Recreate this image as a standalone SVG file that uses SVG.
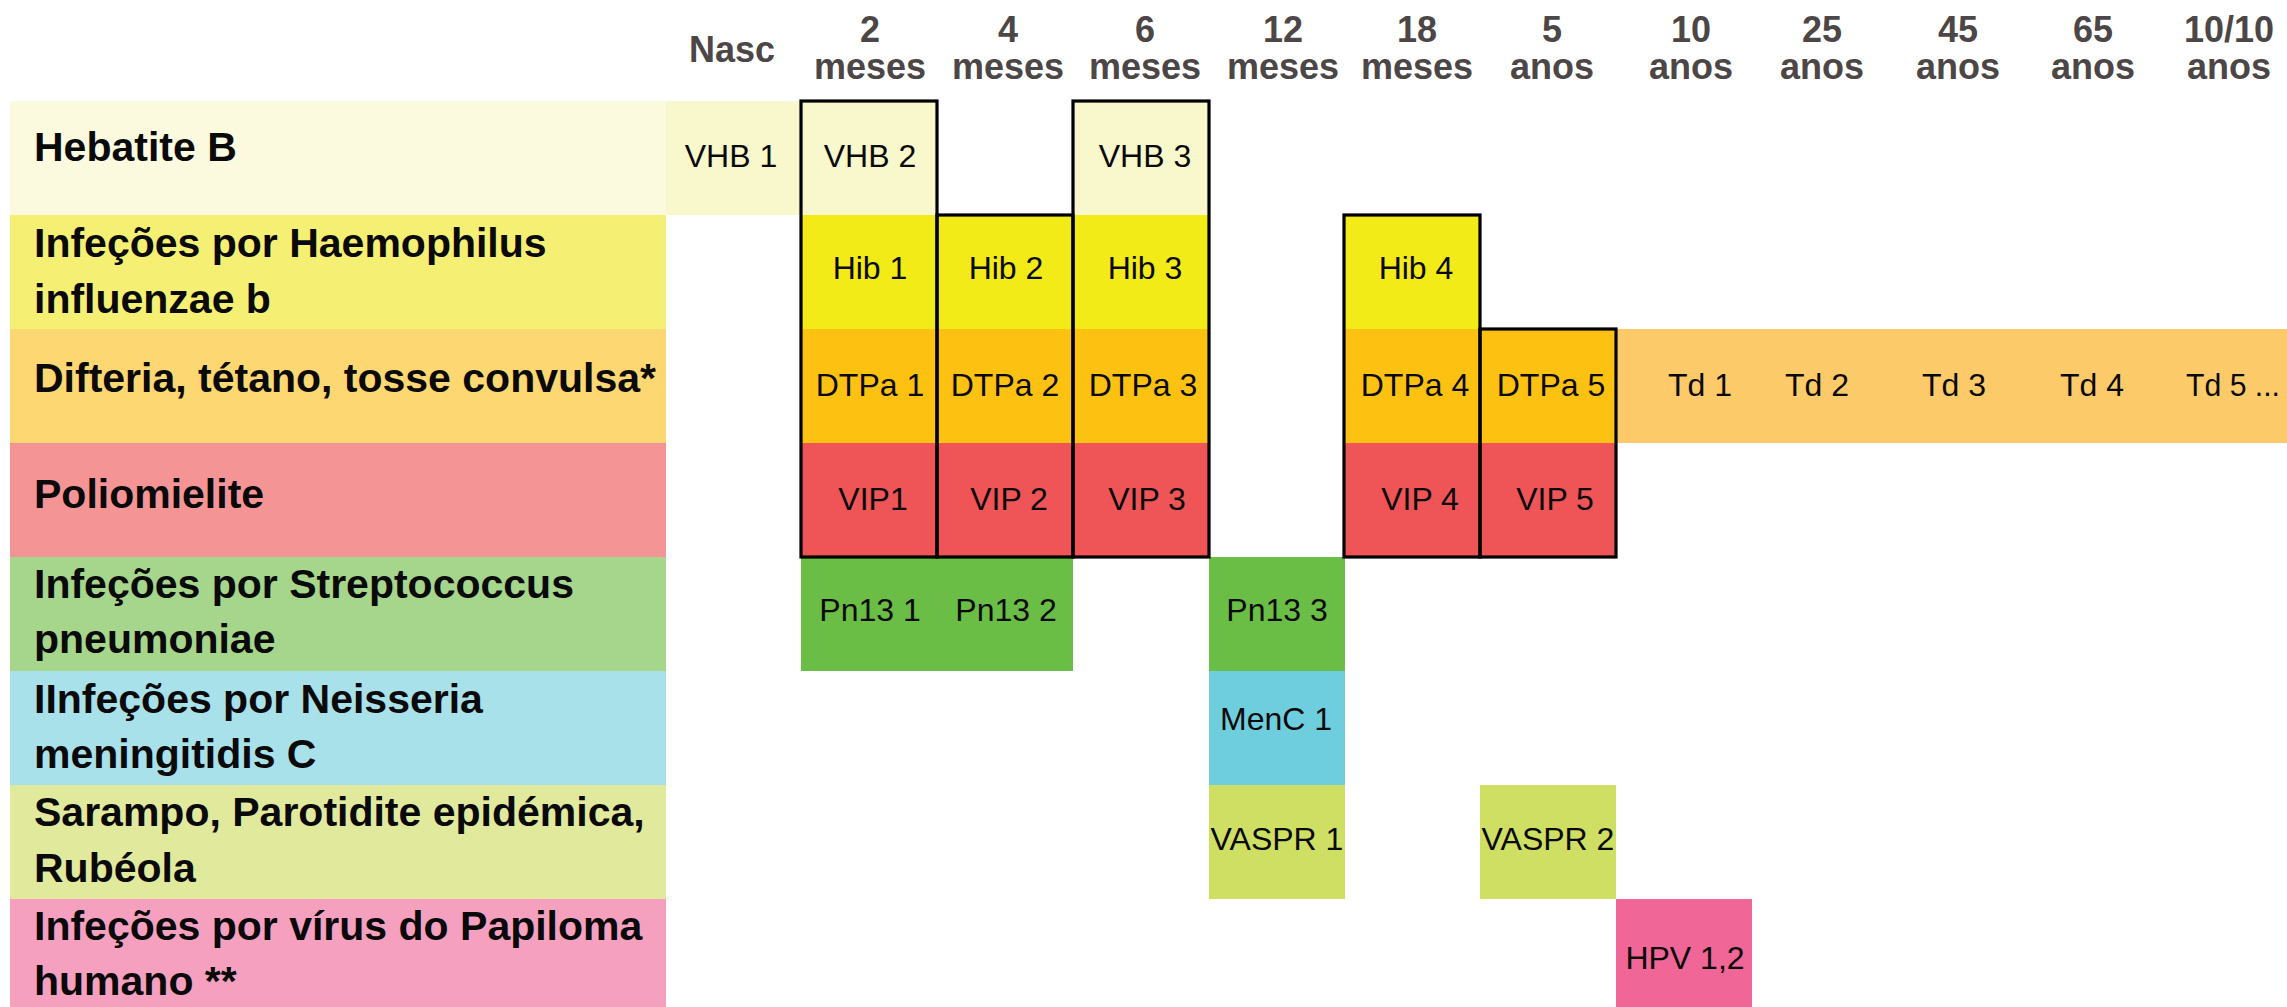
<svg xmlns="http://www.w3.org/2000/svg" width="2287" height="1007" viewBox="0 0 2287 1007">
<style>
.hd{font-family:"Liberation Sans",Arial,sans-serif;font-weight:bold;font-size:36px;fill:#4d4647;text-anchor:middle}
.lb{font-family:"Liberation Sans",Arial,sans-serif;font-weight:bold;font-size:41px;fill:#0a0a0a}
.cl{font-family:"Liberation Sans",Arial,sans-serif;font-size:32px;fill:#0a0a0a;text-anchor:middle}
.st{text-anchor:start}
.ol{fill:none;stroke:#000;stroke-width:3.2}
</style>
<rect width="2287" height="1007" fill="#fff"/>
<g id="header">
<text class="hd" x="732" y="62">Nasc</text>
<text class="hd" x="870" y="42">2</text><text class="hd" x="870" y="79">meses</text>
<text class="hd" x="1008" y="42">4</text><text class="hd" x="1008" y="79">meses</text>
<text class="hd" x="1145" y="42">6</text><text class="hd" x="1145" y="79">meses</text>
<text class="hd" x="1283" y="42">12</text><text class="hd" x="1283" y="79">meses</text>
<text class="hd" x="1417" y="42">18</text><text class="hd" x="1417" y="79">meses</text>
<text class="hd" x="1552" y="42">5</text><text class="hd" x="1552" y="79">anos</text>
<text class="hd" x="1691" y="42">10</text><text class="hd" x="1691" y="79">anos</text>
<text class="hd" x="1822" y="42">25</text><text class="hd" x="1822" y="79">anos</text>
<text class="hd" x="1958" y="42">45</text><text class="hd" x="1958" y="79">anos</text>
<text class="hd" x="2093" y="42">65</text><text class="hd" x="2093" y="79">anos</text>
<text class="hd" x="2229" y="42">10/10</text><text class="hd" x="2229" y="79">anos</text>
</g>
<g id="labels">
<g id="lbl-hepb"><rect x="10" y="101" width="656" height="114" fill="#fbfadf"/><text class="lb" x="34" y="161">Hebatite B</text></g>
<g id="lbl-hib"><rect x="10" y="215" width="656" height="114" fill="#f5f074"/><text class="lb" x="34" y="257">Infeções por Haemophilus</text><text class="lb" x="34" y="313">influenzae b</text></g>
<g id="lbl-dtp"><rect x="10" y="329" width="656" height="114" fill="#fdd771"/><text class="lb" x="34" y="392">Difteria, tétano, tosse convulsa*</text></g>
<g id="lbl-polio"><rect x="10" y="443" width="656" height="114" fill="#f59495"/><text class="lb" x="34" y="508">Poliomielite</text></g>
<g id="lbl-strep"><rect x="10" y="557" width="656" height="114" fill="#a5d68b"/><text class="lb" x="34" y="598">Infeções por Streptococcus</text><text class="lb" x="34" y="653">pneumoniae</text></g>
<g id="lbl-men"><rect x="10" y="671" width="656" height="114" fill="#a8e1ea"/><text class="lb" x="34" y="713">IInfeções por Neisseria</text><text class="lb" x="34" y="768">meningitidis C</text></g>
<g id="lbl-mmr"><rect x="10" y="785" width="656" height="114" fill="#e1e99d"/><text class="lb" x="34" y="826">Sarampo, Parotidite epidémica,</text><text class="lb" x="34" y="882">Rubéola</text></g>
<g id="lbl-hpv"><rect x="10" y="899" width="656" height="114" fill="#f6a0c0"/><text class="lb" x="34" y="940">Infeções por vírus do Papiloma</text><text class="lb" x="34" y="995">humano **</text></g>
</g>
<g id="cells">
<g id="vhb1"><rect x="666" y="101" width="135" height="114" fill="#f9f7cc"/><text class="cl" x="731" y="167">VHB 1</text></g>
<g id="vhb2"><rect x="801" y="101" width="136" height="114" fill="#f9f7cc"/><text class="cl" x="870" y="167">VHB 2</text></g>
<g id="vhb3"><rect x="1073" y="101" width="136" height="114" fill="#f9f7cc"/><text class="cl" x="1145" y="167">VHB 3</text></g>
<g id="hib1"><rect x="801" y="215" width="136" height="114" fill="#f3eb18"/><text class="cl" x="870" y="279">Hib 1</text></g>
<g id="hib2"><rect x="937" y="215" width="136" height="114" fill="#f3eb18"/><text class="cl" x="1006" y="279">Hib 2</text></g>
<g id="hib3"><rect x="1073" y="215" width="136" height="114" fill="#f3eb18"/><text class="cl" x="1145" y="279">Hib 3</text></g>
<g id="hib4"><rect x="1345" y="215" width="135" height="114" fill="#f3eb18"/><text class="cl" x="1416" y="279">Hib 4</text></g>
<g id="dtpa1"><rect x="801" y="329" width="136" height="114" fill="#fdc112"/><text class="cl" x="870" y="396">DTPa 1</text></g>
<g id="dtpa2"><rect x="937" y="329" width="136" height="114" fill="#fdc112"/><text class="cl" x="1005" y="396">DTPa 2</text></g>
<g id="dtpa3"><rect x="1073" y="329" width="136" height="114" fill="#fdc112"/><text class="cl" x="1143" y="396">DTPa 3</text></g>
<g id="dtpa4"><rect x="1345" y="329" width="135" height="114" fill="#fdc112"/><text class="cl" x="1415" y="396">DTPa 4</text></g>
<g id="dtpa5"><rect x="1480" y="329" width="136" height="114" fill="#fdc112"/><text class="cl" x="1551" y="396">DTPa 5</text></g>
<g id="td"><rect x="1616" y="329" width="671" height="114" fill="#fdca69"/>
<text class="cl" x="1700" y="396">Td 1</text><text class="cl" x="1817" y="396">Td 2</text><text class="cl" x="1954" y="396">Td 3</text><text class="cl" x="2092" y="396">Td 4</text><text class="cl st" x="2186" y="396" textLength="94" lengthAdjust="spacingAndGlyphs">Td 5 ...</text></g>
<g id="vip1"><rect x="801" y="443" width="136" height="114" fill="#ef5457"/><text class="cl" x="873" y="510">VIP1</text></g>
<g id="vip2"><rect x="937" y="443" width="136" height="114" fill="#ef5457"/><text class="cl" x="1009" y="510">VIP 2</text></g>
<g id="vip3"><rect x="1073" y="443" width="136" height="114" fill="#ef5457"/><text class="cl" x="1147" y="510">VIP 3</text></g>
<g id="vip4"><rect x="1345" y="443" width="135" height="114" fill="#ef5457"/><text class="cl" x="1420" y="510">VIP 4</text></g>
<g id="vip5"><rect x="1480" y="443" width="136" height="114" fill="#ef5457"/><text class="cl" x="1555" y="510">VIP 5</text></g>
<g id="pn1"><rect x="801" y="557" width="136" height="114" fill="#6abd45"/><text class="cl" x="870" y="621">Pn13 1</text></g>
<g id="pn2"><rect x="937" y="557" width="136" height="114" fill="#6abd45"/><text class="cl" x="1006" y="621">Pn13 2</text></g>
<g id="pn3"><rect x="1209" y="557" width="136" height="114" fill="#6abd45"/><text class="cl" x="1277" y="621">Pn13 3</text></g>
<g id="menc1"><rect x="1209" y="671" width="136" height="114" fill="#6fcedd"/><text class="cl" x="1276" y="730">MenC 1</text></g>
<g id="vaspr1"><rect x="1209" y="785" width="136" height="114" fill="#cfdf64"/><text class="cl" x="1277" y="850">VASPR 1</text></g>
<g id="vaspr2"><rect x="1480" y="785" width="136" height="114" fill="#cfdf64"/><text class="cl" x="1548" y="850">VASPR 2</text></g>
<g id="hpv"><rect x="1616" y="899" width="136" height="114" fill="#ef6697"/><text class="cl" x="1685" y="969">HPV 1,2</text></g>
</g>
<g id="outlines">
<rect class="ol" x="801" y="101" width="136" height="456"/>
<rect class="ol" x="937" y="215" width="136" height="342"/>
<rect class="ol" x="1073" y="101" width="136" height="456"/>
<rect class="ol" x="1344" y="215" width="136" height="342"/>
<rect class="ol" x="1480" y="329" width="136" height="228"/>
</g>
</svg>
